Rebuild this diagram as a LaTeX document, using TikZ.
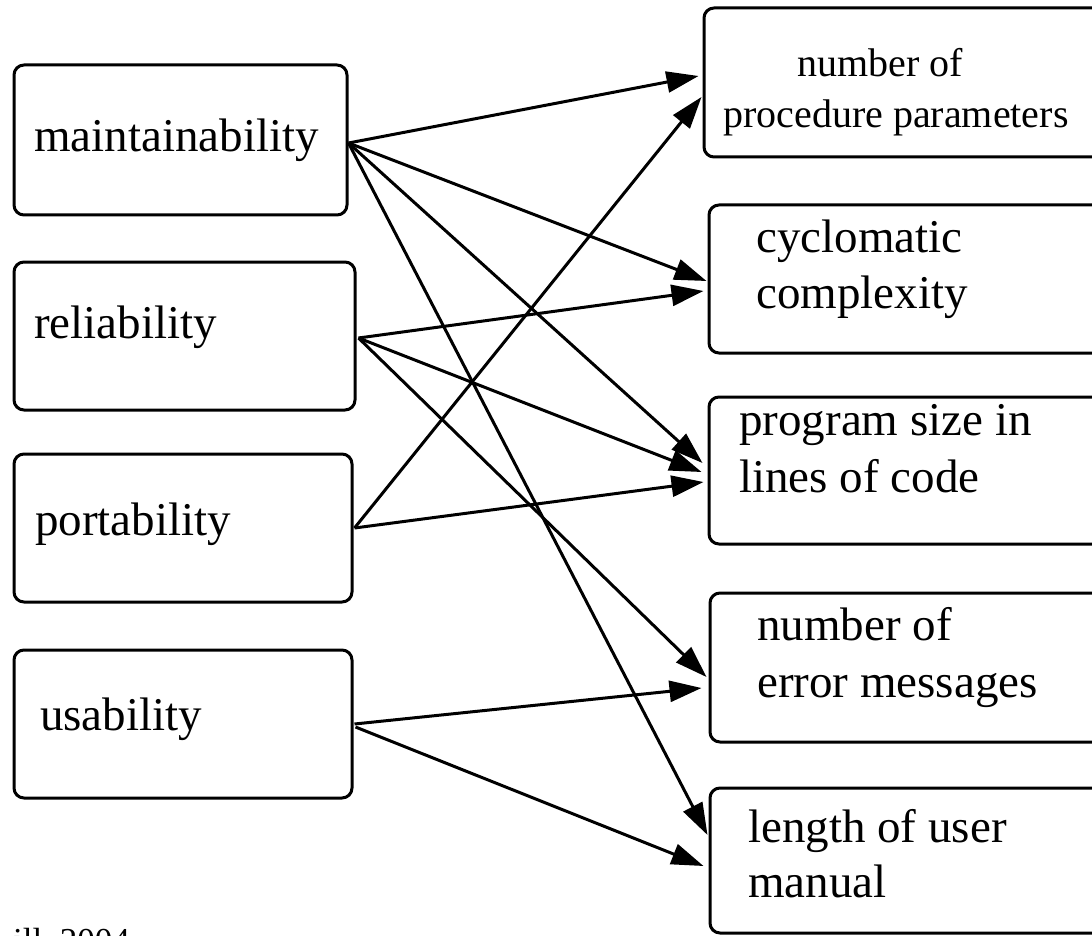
\documentclass[tikz,border=0pt]{standalone}
\usepackage{fontspec}
\setmainfont{Liberation Serif}
\usetikzlibrary{arrows.meta}
\begin{document}
\begin{tikzpicture}[x=1pt,y=-1pt,
  box/.style={draw,line width=3pt,rounded corners=10pt,inner sep=0pt},
  big/.style={font=\fontsize{47}{56}\selectfont,inner sep=0pt,anchor=base west},
  small/.style={font=\fontsize{40}{48}\selectfont,inner sep=0pt,anchor=base west},
  cite/.style={font=\fontsize{35}{42}\selectfont,inner sep=0pt,anchor=base west},
  link/.style={line width=3pt,-{Triangle[length=32pt,width=21pt]}}]
\useasboundingbox (0,0) rectangle (1092,936);
\fill[white] (0,0) rectangle (1092,936);
% left boxes
\node[box,minimum width=333pt,minimum height=150pt] (L1) at (180.5,140) {};
\node[box,minimum width=341pt,minimum height=148pt] (L2) at (184.5,336) {};
\node[box,minimum width=338pt,minimum height=148pt] (L3) at (183,528) {};
\node[box,minimum width=338pt,minimum height=148pt] (L4) at (183,724) {};
% right boxes
\node[box,minimum width=406pt,minimum height=149pt] (R1) at (907,82.5) {};
\node[box,minimum width=401pt,minimum height=148pt] (R2) at (909.5,279) {};
\node[box,minimum width=401pt,minimum height=147pt] (R3) at (909.5,470.5) {};
\node[box,minimum width=400pt,minimum height=149pt] (R4) at (910,667.5) {};
\node[box,minimum width=400pt,minimum height=145pt] (R5) at (910,860.5) {};
% texts
\node[big] (t1) at (34,152) {maintainability};
\node[big] (t2) at (34,338) {reliability};
\node[big] (t3) at (35,535) {portability};
\node[big] (t4) at (40,730) {usability};
\node[small] (r1a) at (797,77) {number of};
\node[small] (r1b) at (723,128) {procedure parameters};
\node[big] (r2a) at (756,252) {cyclomatic};
\node[big] (r2b) at (756,308) {complexity};
\node[big] (r3a) at (739,435) {program size in};
\node[big] (r3b) at (739,492) {lines of code};
\node[big] (r4a) at (757,640) {number of};
\node[big] (r4b) at (757,697) {error messages};
\node[big] (r5a) at (748,842) {length of user};
\node[big] (r5b) at (748,897) {manual};
\node[cite] (cit) at (13,952) {ill, 2004};
% connectors
\draw[link] ([yshift=-3pt]L1.east) -- ([xshift=-4pt,yshift=6.5pt]R1.west);
\draw[link] ([yshift=-3pt]L1.east) -- ([xshift=-1pt,yshift=-2pt]R2.west);
\draw[link] ([yshift=-3pt]L1.east) -- ([xshift=-5pt,yshift=7.5pt]R3.west);
\draw[link] ([yshift=-3pt]L1.east) -- ([xshift=-1pt,yshift=25.5pt]R5.west);
\draw[link] ([xshift=2pt,yshift=-2pt]L2.east) -- ([xshift=-4pt,yshift=-12pt]R2.west);
\draw[link] ([xshift=2pt,yshift=-2pt]L2.east) -- ([xshift=-6pt,yshift=-1.5pt]R3.west);
\draw[link] ([xshift=2pt,yshift=-2pt]L2.east) -- ([xshift=-2pt,yshift=-9.5pt]R4.west);
\draw[link] ([xshift=1pt]L3.east) -- ([xshift=-1pt,yshift=-14.5pt]R1.west);
\draw[link] ([xshift=1pt]L3.east) -- ([xshift=-4pt,yshift=-11.5pt]R3.west);
\draw[link] ([xshift=1pt]L4.east) -- ([xshift=-7pt,yshift=-20.5pt]R4.west);
\draw[link] ([xshift=2pt,yshift=-3pt]L4.east) -- ([xshift=-5pt,yshift=-5.5pt]R5.west);
\end{tikzpicture}
\end{document}
